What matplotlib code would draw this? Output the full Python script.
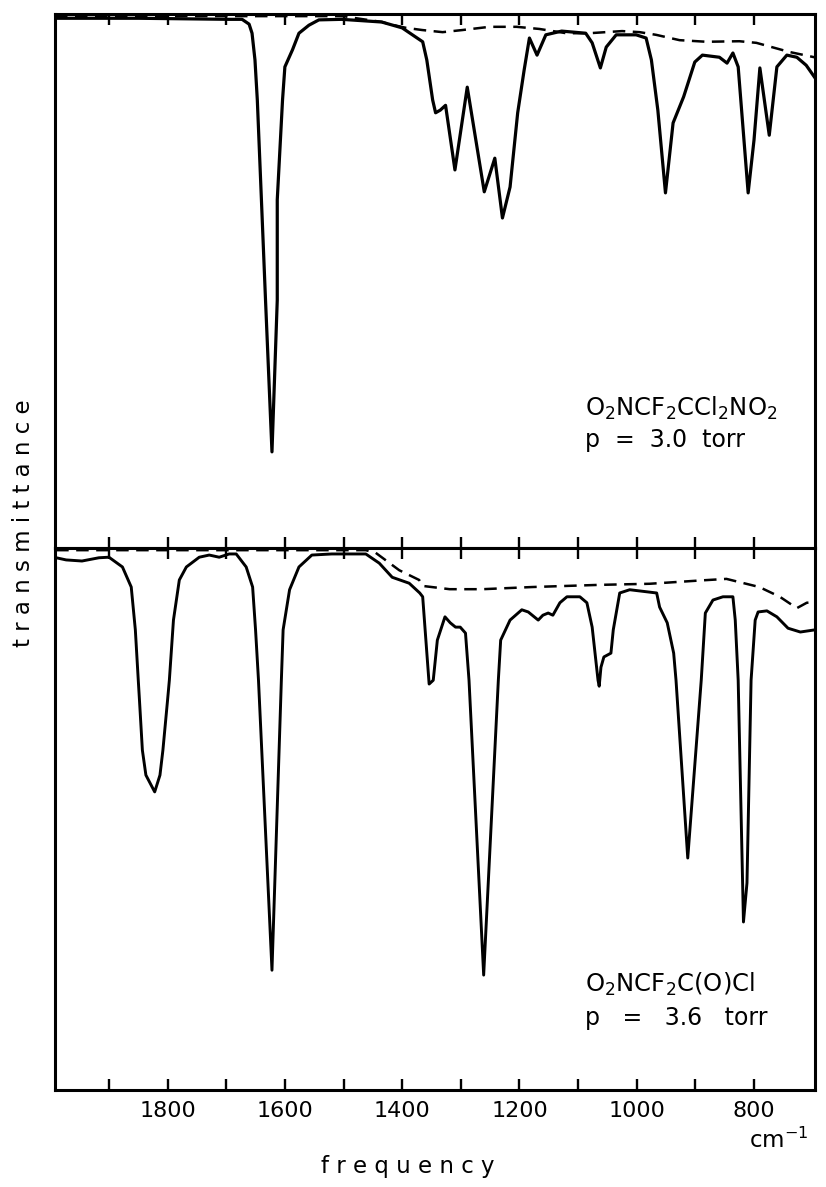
import numpy as np
import matplotlib
matplotlib.use("Agg")
import matplotlib.pyplot as plt

plt.rcParams['font.family'] = ['DejaVu Sans']
plt.rcParams['mathtext.default'] = 'regular'

# upper spectrum: O2NCF2CCl2NO2, p = 3.0 torr
wn_top = [1992, 1849, 1695, 1673, 1661, 1656, 1651, 1647, 1640, 1633,
          1622, 1613, 1613, 1604, 1600, 1587, 1576, 1559, 1542, 1503,
          1435, 1400, 1365, 1358, 1348, 1343, 1335, 1326, 1310, 1289,
          1260, 1242, 1229, 1216, 1203, 1192, 1183, 1170, 1155, 1128,
          1087, 1076, 1062, 1052, 1035, 1001, 984, 975, 964, 951,
          938, 920, 901, 888, 859, 846, 836, 827, 810, 800,
          790, 774, 761, 744, 727, 711, 697]
t_top = [99.2, 99.2, 99.0, 99.0, 98.1, 96.4, 91.4, 83.9, 65.2, 46.4,
         18.0, 46.4, 65.2, 83.9, 90.1, 93.3, 96.4, 97.9, 98.9, 99.0,
         98.5, 97.4, 94.8, 91.4, 83.9, 81.5, 82.0, 82.9, 70.8, 86.3,
         66.7, 73.0, 61.8, 67.6, 81.5, 89.5, 95.5, 92.3, 96.1, 96.8,
         96.4, 94.6, 89.9, 93.8, 96.1, 96.1, 95.5, 91.4, 82.0, 66.5,
         79.6, 84.5, 91.0, 92.3, 91.9, 90.8, 92.7, 90.1, 66.5, 76.4,
         89.9, 77.3, 90.1, 92.3, 91.9, 90.4, 88.2]
# background (empty cell) for the upper spectrum
wn_top_bg = [1992, 1500, 1478, 1434, 1422, 1393, 1366, 1331, 1297, 1251,
             1205, 1166, 1120, 1081, 1025, 995, 967, 927, 881, 825,
             796, 740, 697]
t_top_bg = [99.6, 99.6, 99.2, 98.5, 98.1, 97.4, 97.0, 96.6, 97.0, 97.6,
            97.6, 97.2, 96.4, 96.4, 96.8, 96.6, 96.1, 95.1, 94.8, 94.9,
            94.6, 92.9, 91.9]

# lower spectrum: O2NCF2C(O)Cl, p = 3.6 torr
wn_bot = [1990, 1973, 1946, 1917, 1900, 1877, 1862, 1855, 1850, 1848,
          1843, 1837, 1822, 1813, 1808, 1800, 1797, 1790, 1780, 1768,
          1746, 1729, 1712, 1695, 1683, 1666, 1655, 1650, 1645, 1622,
          1606, 1603, 1592, 1576, 1554, 1520, 1462, 1439, 1417, 1388,
          1370, 1365, 1354, 1347, 1340, 1327, 1318, 1309, 1301, 1292,
          1286, 1261, 1236, 1232, 1216, 1196, 1185, 1168, 1160, 1151,
          1143, 1131, 1119, 1097, 1085, 1076, 1066, 1064, 1061, 1056,
          1044, 1040, 1029, 1012, 966, 961, 948, 937, 933, 913,
          890, 883, 870, 853, 836, 832, 827, 818, 812, 805,
          798, 793, 778, 761, 742, 721, 696]
t_bot = [98.2, 97.8, 97.6, 98.2, 98.3, 96.5, 92.8, 84.9, 75.6, 72.0,
         62.7, 58.1, 55.0, 58.1, 62.7, 72.0, 75.6, 86.7, 94.1, 96.5,
         98.3, 98.7, 98.3, 98.9, 98.9, 96.5, 92.8, 84.9, 75.6, 22.1,
         75.6, 84.9, 92.3, 96.5, 98.7, 98.9, 98.9, 97.2, 94.6, 93.5,
         91.7, 91.0, 74.9, 75.6, 83.0, 87.3, 86.2, 85.4, 85.4, 84.3,
         75.6, 21.2, 75.6, 83.0, 86.7, 88.6, 88.2, 86.7, 87.6, 88.0,
         87.6, 89.9, 91.0, 91.0, 89.9, 85.4, 75.6, 74.5, 78.0, 79.9,
         80.6, 84.9, 91.7, 92.3, 91.7, 89.1, 86.2, 80.6, 75.6, 42.8,
         75.6, 88.0, 90.4, 91.0, 91.0, 86.7, 75.6, 31.0, 38.2, 75.6,
         86.7, 88.2, 88.4, 87.3, 85.2, 84.5, 84.9]
wn_bot_bg = [1990, 1462, 1445, 1405, 1371, 1365, 1319, 1263, 1178, 1063,
             978, 893, 847, 791, 756, 727, 710, 696]
t_bot_bg = [99.6, 99.6, 99.1, 95.9, 94.1, 93.0, 92.4, 92.4, 92.8, 93.2,
            93.4, 94.0, 94.3, 92.8, 91.0, 88.9, 89.9, 90.0]

tick_pos = list(range(800, 2000, 100))
tick_lab = [str(v) if v % 200 == 0 else '' for v in tick_pos]

W, H = 826, 1187
fig = plt.figure(figsize=(W / 100, H / 100), dpi=100)

# axes boxes in pixels: left, top, right, bottom
x0, x1 = 55, 815
ax1 = fig.add_axes([x0 / W, 1 - 548 / H, (x1 - x0) / W, (548 - 14) / H])
ax2 = fig.add_axes([x0 / W, 1 - 1090 / H, (x1 - x0) / W, (1090 - 548) / H])

for ax in (ax1, ax2):
    ax.set_xlim(1992, 696)
    ax.set_ylim(0, 100)
    ax.set_yticks([])
    ax.set_xticks(tick_pos)
    ax.tick_params(axis='x', direction='in', top=True, bottom=True,
                   length=8, width=1.7, labelsize=16, pad=8)
    for s in ax.spines.values():
        s.set_linewidth(2.2)

ax1.tick_params(axis='x', labelbottom=False)
ax2.set_xticklabels(tick_lab)

ax1.plot(wn_top, t_top, color='black', lw=2.3, solid_joinstyle='round')
ax1.plot(wn_top_bg, t_top_bg, color='black', lw=1.8, ls=(0, (5, 3)))
ax2.plot(wn_bot, t_bot, color='black', lw=2.1, solid_joinstyle='round')
ax2.plot(wn_bot_bg, t_bot_bg, color='black', lw=1.8, ls=(0, (5, 3)))

fig.text(585 / W, 1 - 408 / H, 'O$_2$NCF$_2$CCl$_2$NO$_2$', fontsize=17.5,
         ha='left', va='center')
fig.text(585 / W, 1 - 440 / H, 'p  =  3.0  torr', fontsize=17,
         ha='left', va='center')
fig.text(585 / W, 1 - 984 / H, 'O$_2$NCF$_2$C(O)Cl', fontsize=17.5,
         ha='left', va='center')
fig.text(585 / W, 1 - 1018 / H, 'p   =   3.6   torr', fontsize=17,
         ha='left', va='center')

fig.text(24 / W, 1 - 523 / H, 't r a n s m i t t a n c e', fontsize=16.5,
         rotation=90, ha='center', va='center')
fig.text(408 / W, 1 - 1166 / H, 'f r e q u e n c y', fontsize=16.5,
         ha='center', va='center')
fig.text(808 / W, 1 - 1140 / H, 'cm$^{-1}$', fontsize=16.5,
         ha='right', va='center')

fig.savefig('out.png', dpi=100)
